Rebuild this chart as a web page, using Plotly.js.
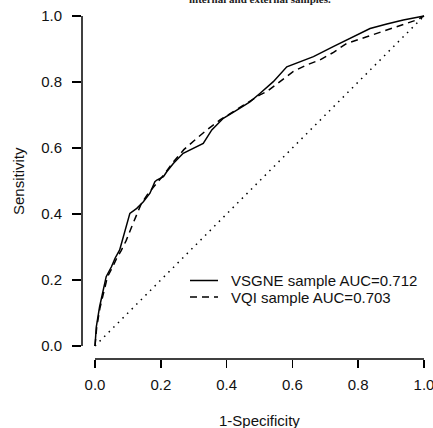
<!DOCTYPE html>
<html>
<head>
<meta charset="utf-8">
<script src="https://cdn.plot.ly/plotly-3.0.1.min.js"></script>
<style>html,body{margin:0;padding:0;background:#fff;}#chart{width:433px;height:428px;}</style>
</head>
<body>
<div id="chart"></div>
<script>
// ---- data ----
var vsgneFpr = [0, 0.004, 0.014, 0.024, 0.034, 0.05, 0.061, 0.075, 0.086, 0.106, 0.127, 0.147, 0.167, 0.182, 0.188, 0.208, 0.218, 0.238, 0.268, 0.299, 0.329, 0.355, 0.39, 0.431, 0.471, 0.502, 0.542, 0.583, 0.624, 0.664, 0.724, 0.785, 0.836, 0.887, 0.937, 1];
var vsgneTpr = [0, 0.058, 0.119, 0.17, 0.21, 0.24, 0.266, 0.291, 0.332, 0.402, 0.417, 0.437, 0.463, 0.498, 0.503, 0.513, 0.528, 0.553, 0.584, 0.599, 0.614, 0.655, 0.69, 0.715, 0.74, 0.766, 0.801, 0.846, 0.862, 0.877, 0.907, 0.937, 0.962, 0.976, 0.988, 1];
var vqiFpr = [0, 0.005, 0.015, 0.027, 0.038, 0.054, 0.066, 0.08, 0.095, 0.111, 0.125, 0.14, 0.16, 0.185, 0.21, 0.24, 0.27, 0.309, 0.34, 0.38, 0.42, 0.46, 0.5, 0.522, 0.562, 0.603, 0.644, 0.684, 0.725, 0.765, 0.826, 0.88, 0.927, 0.978, 1];
var vqiTpr = [0, 0.055, 0.115, 0.17, 0.21, 0.24, 0.266, 0.29, 0.32, 0.36, 0.395, 0.43, 0.46, 0.49, 0.52, 0.56, 0.595, 0.629, 0.655, 0.685, 0.71, 0.735, 0.76, 0.771, 0.801, 0.832, 0.852, 0.867, 0.89, 0.917, 0.937, 0.955, 0.973, 0.988, 1];
var diagX = [0, 1];
var diagY = [0, 1];
var tickVals = [0, 0.2, 0.4, 0.6, 0.8, 1.0];
var seriesNames = ["VSGNE sample AUC=0.712", "VQI sample AUC=0.703"];
var titleText = "internal and external samples.";
var xTitle = "1-Specificity";
var yTitle = "Sensitivity";

// ---- layout helpers (pixel -> paper) ----
var W = 433, H = 428, mL = 82, mR = 0, mT = 3, mB = 69;
var pw = W - mL - mR, ph = H - mT - mB;
function px(p) { return (p - mL) / pw; }
function py(p) { return (H - mB - p) / ph; }

var font = "Liberation Sans, Arial, sans-serif";
var txtCol = "#111";

var traces = [
  {x: vsgneFpr, y: vsgneTpr, mode: "lines", line: {color: "#000", width: 1.5}, showlegend: false, hoverinfo: "skip"},
  {x: vqiFpr, y: vqiTpr, mode: "lines", line: {color: "#000", width: 1.5, dash: "7px,5px"}, showlegend: false, hoverinfo: "skip"},
  {x: diagX, y: diagY, mode: "lines", line: {color: "#000", width: 1.5, dash: "1.5px,5px"}, showlegend: false, hoverinfo: "skip"}
];

var layout = {
  width: W, height: H,
  margin: {l: mL, r: mR, t: mT, b: mB},
  paper_bgcolor: "#fff", plot_bgcolor: "#fff",
  showlegend: false,
  xaxis: {
    range: [-0.0395, -0.0395 + pw / 329], showgrid: false, zeroline: false, showline: false,
    tickvals: tickVals, tickformat: ".1f", ticks: "outside", ticklen: 8, tickwidth: 1.5, tickcolor: "#000",
    tickfont: {family: font, size: 15, color: txtCol}, ticklabelstandoff: 4, ticklabeloverflow: "allow", fixedrange: true
  },
  yaxis: {
    range: [-13 / 330, 1 + 13 / 330], showgrid: false, zeroline: false, showline: false,
    tickvals: tickVals, tickformat: ".1f", ticks: "outside", ticklen: 9, tickwidth: 1.5, tickcolor: "#000",
    tickfont: {family: font, size: 15, color: txtCol}, ticklabelstandoff: 7, ticklabeloverflow: "allow", fixedrange: true
  },
  shapes: [
    {type: "line", xref: "x", yref: "paper", x0: 0, x1: 1, y0: 0, y1: 0, line: {color: "#000", width: 1.5}},
    {type: "line", xref: "paper", yref: "y", x0: 0, x1: 0, y0: 0, y1: 1, line: {color: "#000", width: 1.5}},
    {type: "line", xref: "paper", yref: "paper", x0: px(190), x1: px(218), y0: py(280.5), y1: py(280.5), line: {color: "#000", width: 1.5}},
    {type: "line", xref: "paper", yref: "paper", x0: px(190), x1: px(218), y0: py(297), y1: py(297), line: {color: "#000", width: 1.5, dash: "7px,5px"}}
  ],
  annotations: [
    {text: seriesNames[0], xref: "paper", yref: "paper", x: px(229), y: py(280.5), xanchor: "left", yanchor: "middle", showarrow: false, font: {family: font, size: 15, color: txtCol}},
    {text: seriesNames[1], xref: "paper", yref: "paper", x: px(229), y: py(297), xanchor: "left", yanchor: "middle", showarrow: false, font: {family: font, size: 15, color: txtCol}},
    {text: xTitle, xref: "paper", yref: "paper", x: px(259), y: py(420), xanchor: "center", yanchor: "middle", showarrow: false, font: {family: font, size: 15, color: txtCol}},
    {text: yTitle, xref: "paper", yref: "paper", x: px(18), y: py(181), xanchor: "center", yanchor: "middle", textangle: -90, showarrow: false, font: {family: font, size: 15, color: txtCol}},
    {text: "<b>" + titleText + "</b>", xref: "paper", yref: "paper", x: px(260), y: py(-0.5), xanchor: "center", yanchor: "middle", showarrow: false, font: {family: "Liberation Serif, Times New Roman, serif", size: 11, color: "#222"}}
  ]
};

Plotly.newPlot("chart", traces, layout, {staticPlot: true, displayModeBar: false});
</script>
</body>
</html>
